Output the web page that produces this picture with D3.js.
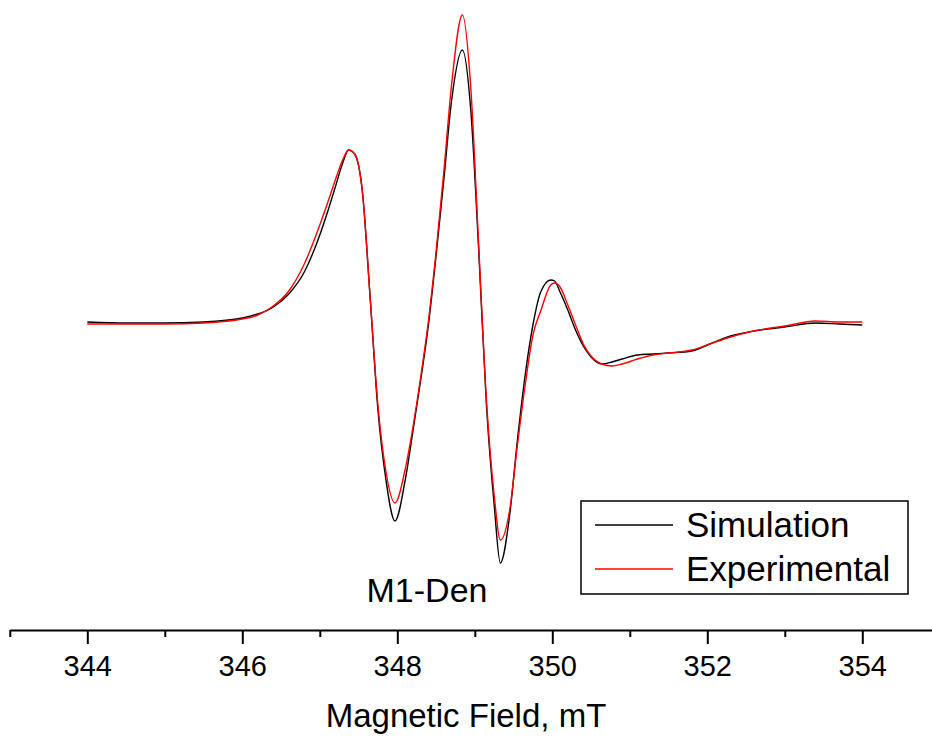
<!DOCTYPE html>
<html>
<head>
<meta charset="utf-8">
<script src="https://cdn.jsdelivr.net/npm/d3@7"></script>
<style>
  body { margin: 0; background: #fff; }
  svg text { font-family: Arial, "Liberation Sans", sans-serif; fill: #000; }
</style>
</head>
<body>
<div id="chart"></div>
<script>
// field values in mT
var field = [344.0, 344.5, 345.0, 345.5, 346.0, 346.2, 346.4, 346.6, 346.8, 347.0,
             347.1, 347.2, 347.3, 347.37, 347.45, 347.55, 347.65, 347.75, 347.85, 347.97,
             348.1, 348.2, 348.3, 348.4, 348.5, 348.6, 348.7, 348.84, 348.95, 349.05,
             349.15, 349.25, 349.33, 349.45, 349.55, 349.65, 349.75, 349.85, 349.98, 350.03,
             350.1, 350.2, 350.3, 350.4, 350.5, 350.64, 350.77, 350.9, 351.1, 351.3,
             351.5, 351.8, 352.0, 352.3, 352.6, 353.0, 353.4, 353.7, 354.0]

// intensities, arbitrary units
var simulation = [1, 0, 0, 1, 5, 9, 16, 29, 51, 88,
                  111, 136, 161, 173, 169, 131, 25, -87, -155, -198,
                  -158, -109, -58, -3, 67, 143, 222, 273, 211, 73,
                  -82, -182, -240, -192, -117, -52, -2, 31, 43, 42,
                  31, 13, -7, -23, -34, -41, -39, -36, -32, -31,
                  -30, -28, -22, -13, -8, -4, 0, -1, -2]

var experimental = [-1, -1, -1, 0, 4, 8, 17, 32, 59, 98,
                    120, 143, 164, 173, 169, 131, 25, -82, -147, -180,
                    -147, -105, -55, 1, 71, 151, 238, 308, 233, 78,
                    -77, -172, -217, -187, -122, -62, -12, 12, 38, 40,
                    36, 18, -2, -21, -33, -41, -43, -41, -36, -32,
                    -30, -27, -22, -14, -8, -3, 2, 1, 1]

var majorTicks = [344, 346, 348, 350, 352, 354]
var minorTicks = [343, 345, 347, 349, 351, 353, 355]

var seriesNames = ["Simulation", "Experimental"]
var seriesColors = ["#000000", "#ff0000"]

var width = 932, height = 737

var svg = d3.select("#chart")
            .append("svg")
            .attr("width", width)
            .attr("height", height)

var x = d3.scaleLinear()
          .domain([343, 355])
          .range([9.8, 939.8])

var y = d3.scaleLinear()
          .domain([-300, 323])
          .range([623, 0])

var axisY = 630

// minor ticks first, then major ticks with labels
svg.append("g")
   .attr("transform", "translate(0," + axisY + ")")
   .call(d3.axisBottom(x).tickValues(minorTicks).tickSize(7).tickSizeOuter(0).tickFormat(""))
   .call(g => g.selectAll("line").attr("stroke-width", 2))
   .call(g => g.select(".domain").attr("stroke-width", 2.2))

svg.append("g")
   .attr("transform", "translate(0," + axisY + ")")
   .call(d3.axisBottom(x).tickValues(majorTicks).tickSize(14).tickSizeOuter(0).tickPadding(11).tickFormat(d3.format("d")))
   .call(g => g.select(".domain").remove())
   .call(g => g.selectAll("line").attr("stroke-width", 2))
   .call(g => g.selectAll("text")
               .attr("font-size", 29)
               .attr("font-family", "Arial, 'Liberation Sans', sans-serif"))

svg.append("text")
   .attr("x", 466)
   .attr("y", 727)
   .attr("text-anchor", "middle")
   .attr("font-size", 33)
   .text("Magnetic Field, mT")

var line = d3.line()
             .x(function(d) { return x(d[0]) })
             .y(function(d) { return y(d[1]) })
             .curve(d3.curveMonotoneX)

var series = [simulation, experimental]
series.forEach(function(vals, i) {
    svg.append("path")
       .datum(field.map(function(f, j) { return [f, vals[j]] }))
       .attr("fill", "none")
       .attr("stroke", seriesColors[i])
       .attr("stroke-width", 1.4)
       .attr("d", line)
})

svg.append("text")
   .attr("x", 427)
   .attr("y", 602)
   .attr("text-anchor", "middle")
   .attr("font-size", 34)
   .text("M1-Den")

// legend
var legend = svg.append("g")
legend.append("rect")
      .attr("x", 581)
      .attr("y", 501)
      .attr("width", 327)
      .attr("height", 93)
      .attr("fill", "#fff")
      .attr("stroke", "#000")
      .attr("stroke-width", 1.5)

seriesNames.forEach(function(name, i) {
    var ly = 525 + i * 44
    legend.append("line")
          .attr("x1", 595).attr("x2", 673)
          .attr("y1", ly).attr("y2", ly)
          .attr("stroke", seriesColors[i])
          .attr("stroke-width", 1.4)
    legend.append("text")
          .attr("x", 686)
          .attr("y", ly + 12)
          .attr("font-size", 35)
          .text(name)
})
</script>
</body>
</html>
